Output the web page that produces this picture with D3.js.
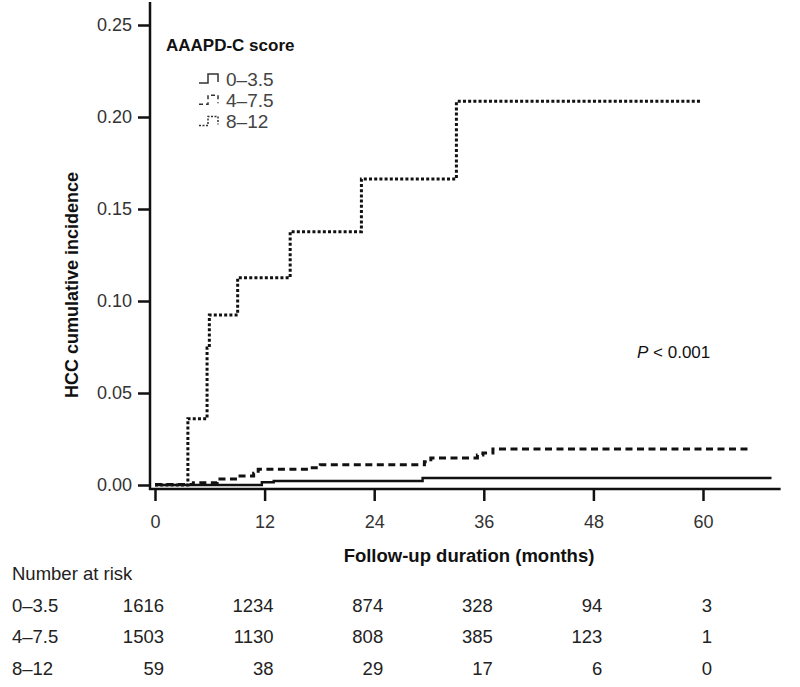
<!DOCTYPE html>
<html>
<head>
<meta charset="utf-8">
<script src="https://cdn.jsdelivr.net/npm/d3@7"></script>
<style>
  body { margin: 0; background: #fff; }
  text { font-family: "Liberation Sans", Arial, sans-serif; }
</style>
</head>
<body>
<script>
// data
var months = [0, 12, 24, 36, 48, 60];
var yTicks = [0, 0.05, 0.10, 0.15, 0.20, 0.25];
var groups = ["0\u20133.5", "4\u20137.5", "8\u201312"];

// number at risk per group at each tick
var risk0 = [1616, 1234, 874, 328, 94, 3];
var risk1 = [1503, 1130, 808, 385, 123, 1];
var risk2 = [59, 38, 29, 17, 6, 0];

// cumulative incidence steps: [month, value]
var curve0 = [[0, 0], [11.7, 0.0015], [13, 0.0022], [29.3, 0.0038], [67.5, 0.0038]];
var curve1 = [[0, 0.0003], [4.2, 0.0012], [6.8, 0.0033], [9, 0.0049], [10.8, 0.0064],
              [11.3, 0.0085], [17, 0.0094], [18.1, 0.011], [29.5, 0.0127], [30.2, 0.0147],
              [35.3, 0.0163], [35.9, 0.0174], [37, 0.0196], [65, 0.0196]];
var curve2 = [[0, 0], [3.6, 0.036], [5.7, 0.0745], [5.95, 0.0924], [9.05, 0.1127],
              [14.8, 0.1377], [22.6, 0.1663], [33, 0.2085], [59.7, 0.2085]];

var w = 800, h = 687;

var svg = d3.select("body").append("svg")
    .attr("width", w)
    .attr("height", h);

var xScale = d3.scaleLinear().domain([0, 60]).range([155, 703]);
var yScale = d3.scaleLinear().domain([0, 0.25]).range([485, 25]);
var axisY = 489, axisX = 150;

// styles per group
var styles = [
  { width: 2.4, dash: null },
  { width: 3, dash: "7,4.5" },
  { width: 3, dash: "3,2.2" }
];

// y axis
var gy = svg.append("g")
    .attr("transform", "translate(" + axisX + ",0)")
    .call(d3.axisLeft(yScale).tickValues(yTicks).tickFormat(d3.format(".2f"))
      .tickSize(12).tickSizeOuter(0).tickPadding(6));
gy.select(".domain").remove();
gy.selectAll("line").attr("stroke", "#111").attr("stroke-width", 2.5);
gy.selectAll("text").attr("font-size", 18).attr("fill", "#333");
svg.append("line")
    .attr("x1", axisX).attr("x2", axisX)
    .attr("y1", 2).attr("y2", axisY + 1)
    .attr("stroke", "#111").attr("stroke-width", 2.5);

// x axis
var gx = svg.append("g")
    .attr("transform", "translate(0," + axisY + ")")
    .call(d3.axisBottom(xScale).tickValues(months)
      .tickSize(12).tickSizeOuter(0).tickPadding(14));
gx.select(".domain").remove();
gx.selectAll("line").attr("stroke", "#111").attr("stroke-width", 2.5);
gx.selectAll("text").attr("font-size", 18).attr("fill", "#333");
svg.append("line")
    .attr("x1", axisX - 1).attr("x2", xScale(68.5))
    .attr("y1", axisY).attr("y2", axisY)
    .attr("stroke", "#111").attr("stroke-width", 2.5);

// curves
var line = d3.line()
    .x(function(d) { return xScale(d[0]); })
    .y(function(d) { return yScale(d[1]); })
    .curve(d3.curveStepAfter);

[curve0, curve1, curve2].forEach(function(c, i) {
  svg.append("path")
      .datum(c)
      .attr("d", line)
      .attr("fill", "none")
      .attr("stroke", "#111")
      .attr("stroke-width", styles[i].width)
      .attr("stroke-dasharray", styles[i].dash);
});

// legend
svg.append("text")
    .attr("x", 166).attr("y", 51)
    .attr("font-size", 17).attr("font-weight", "bold").attr("fill", "#111")
    .text("AAAPD-C score");

groups.forEach(function(g, i) {
  var cy = 79 + i * 21.3;
  svg.append("path")
      .attr("d", "M199," + (cy + 4) + "H208V" + (cy - 5) + "H218V" + (cy + 3))
      .attr("fill", "none")
      .attr("stroke", "#333")
      .attr("stroke-width", 1.5)
      .attr("stroke-dasharray", i === 0 ? null : (i === 1 ? "4,3" : "2,1.5"));
  svg.append("text")
      .attr("x", 226).attr("y", cy)
      .attr("dy", "0.36em")
      .attr("font-size", 19).attr("fill", "#444")
      .text(g);
});

// p value
var pt = svg.append("text")
    .attr("x", 637).attr("y", 352).attr("dy", "0.36em")
    .attr("font-size", 17).attr("fill", "#111");
pt.append("tspan").attr("font-style", "italic").text("P");
pt.append("tspan").text(" < 0.001");

// axis titles
svg.append("text")
    .attr("transform", "translate(78,285) rotate(-90)")
    .attr("text-anchor", "middle")
    .attr("font-size", 18).attr("font-weight", "bold").attr("fill", "#111")
    .text("HCC cumulative incidence");

svg.append("text")
    .attr("x", 469).attr("y", 555).attr("dy", "0.36em")
    .attr("text-anchor", "middle")
    .attr("font-size", 18.5).attr("font-weight", "bold").attr("fill", "#111")
    .text("Follow-up duration (months)");

// number at risk table
svg.append("text")
    .attr("x", 12).attr("y", 573).attr("dy", "0.36em")
    .attr("font-size", 18.5).attr("fill", "#222")
    .text("Number at risk");

[risk0, risk1, risk2].forEach(function(row, i) {
  var ry = 605 + i * 31.7;
  svg.append("text")
      .attr("x", 12).attr("y", ry).attr("dy", "0.36em")
      .attr("font-size", 18.5).attr("fill", "#222")
      .text(groups[i]);
  svg.selectAll(null)
      .data(row)
      .enter()
      .append("text")
      .attr("x", function(d, j) { return xScale(months[j]) + 9; })
      .attr("y", ry).attr("dy", "0.36em")
      .attr("text-anchor", "end")
      .attr("font-size", 18.5).attr("fill", "#222")
      .text(function(d) { return d; });
});
</script>
</body>
</html>
